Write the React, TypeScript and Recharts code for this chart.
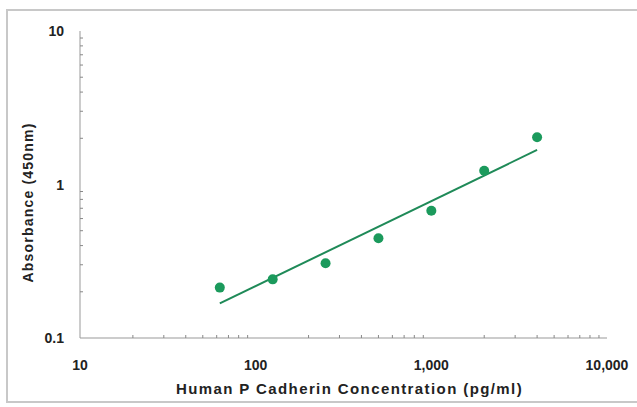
import { ComposedChart, Scatter, Line, XAxis, YAxis } from 'recharts';

const concentrations = [62.5, 125, 250, 500, 1000, 2000, 4000];
const absorbance = [0.213, 0.241, 0.307, 0.447, 0.675, 1.23, 2.03];
const fitX = [62.5, 4000];
const fitY = [0.168, 1.68];

const xTicks = [10, 20, 30, 40, 50, 60, 70, 80, 90, 100, 200, 300, 400, 500, 600, 700, 800, 900, 1000, 2000, 3000, 4000, 5000, 6000, 7000, 8000, 9000, 10000];
const xLabels: Record<number, string> = { 10: '10', 100: '100', 1000: '1,000', 10000: '10,000' };
const yTicks = [0.1, 0.2, 0.3, 0.4, 0.5, 0.6, 0.7, 0.8, 0.9, 1, 2, 3, 4, 5, 6, 7, 8, 9, 10];
const yLabels: Record<number, string> = { 0.1: '0.1', 1: '1', 10: '10' };

const points = concentrations.map((x, i) => ({ x, y: absorbance[i] }));
const fit = fitX.map((x, i) => ({ x, y: fitY[i] }));

const GREEN = '#1b9a5c';
const FONT = '"Liberation Sans", Arial, sans-serif';

function XTick({ x, y, payload }: any) {
  const v = payload.value;
  const label = xLabels[v];
  return (
    <g>
      <line x1={x} x2={x} y1={y} y2={y - (label ? 0 : 3)} stroke="#888" />
      {label && (
        <text x={x} y={y + 32} textAnchor="middle" fontFamily={FONT} fontWeight="bold" fontSize={14} fill="#222">
          {label}
        </text>
      )}
    </g>
  );
}

function YTick({ x, y, payload }: any) {
  const v = payload.value;
  const label = yLabels[v];
  return (
    <g>
      <line x1={x} x2={x + (label ? 0 : 3)} y1={y} y2={y} stroke="#888" />
      {label && (
        <text x={x - 16} y={y + 5} textAnchor="end" fontFamily={FONT} fontWeight="bold" fontSize={14} fill="#222">
          {label}
        </text>
      )}
    </g>
  );
}

const yTitle = (props: any) => {
  const vb = props.viewBox;
  const cx = 28;
  const cy = vb.y + vb.height / 2 + 18;
  return (
    <text x={cx} y={cy} transform={`rotate(-90, ${cx}, ${cy})`} textAnchor="middle" dominantBaseline="central" fontFamily={FONT} fontWeight="bold" fontSize={14} letterSpacing={1.2} fill="#222">
      Absorbance (450nm)
    </text>
  );
};

const xTitle = (props: any) => {
  const vb = props.viewBox;
  return (
    <text x={vb.x + vb.width / 2 + 6} y={vb.y + 56} textAnchor="middle" fontFamily={FONT} fontWeight="bold" fontSize={15} letterSpacing={1.4} fill="#222">
      Human P Cadherin Concentration (pg/ml)
    </text>
  );
};

export default function App() {
  return (
    <div style={{ position: 'absolute', left: 0, top: 0, width: 637, height: 407, background: '#fff' }}>
      <div style={{ position: 'absolute', left: 6, top: 9, width: 640, height: 394, border: '2px solid #c8c8c8', boxSizing: 'border-box' }} />
      <div style={{ position: 'absolute', left: 0, top: 0 }}>
        <ComposedChart width={637} height={407} margin={{ top: 31, right: 30, left: 0, bottom: 0 }}>
          <XAxis
            dataKey="x"
            type="number"
            scale="log"
            domain={[10, 10000]}
            ticks={xTicks}
            interval={0}
            tickSize={0}
            tickMargin={0}
            height={69}
            stroke="#999"
            tick={<XTick />}
            allowDataOverflow
            label={{ content: xTitle }}
          />
          <YAxis
            dataKey="y"
            type="number"
            scale="log"
            domain={[0.1, 10]}
            ticks={yTicks}
            interval={0}
            tickSize={0}
            tickMargin={0}
            width={80}
            stroke="#999"
            tick={<YTick />}
            allowDataOverflow
            label={{ content: yTitle }}
          />
          <Line data={fit} dataKey="y" stroke="#1f8a58" strokeWidth={2} dot={false} isAnimationActive={false} />
          <Scatter data={points} fill={GREEN} shape={(p: any) => <circle cx={p.cx} cy={p.cy} r={5} fill={GREEN} />} isAnimationActive={false} />
        </ComposedChart>
      </div>
    </div>
  );
}
